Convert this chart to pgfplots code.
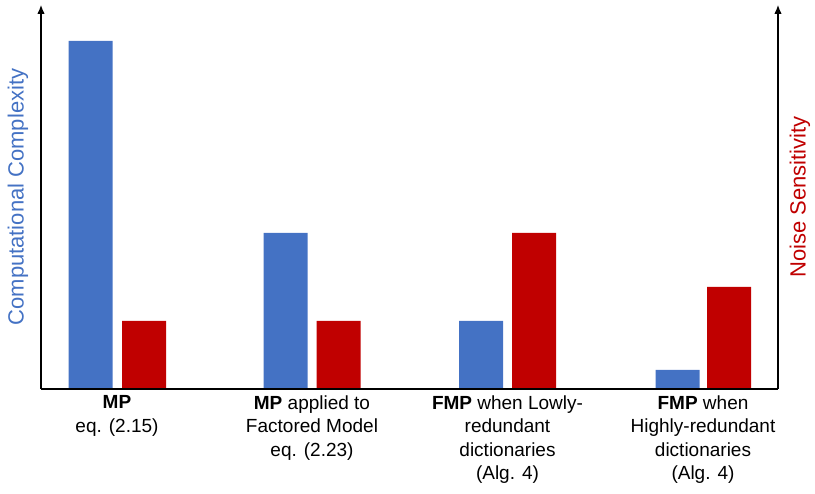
\documentclass[border=0pt]{standalone}
\usepackage{fontspec}
\setmainfont{Liberation Sans}
\usepackage{pgfplots}
\pgfplotsset{compat=1.18}
\usetikzlibrary{arrows.meta}
\definecolor{cblue}{HTML}{4472C4}
\definecolor{cred}{HTML}{C00000}
\begin{document}
\begin{tikzpicture}[x=1pt,y=1pt]
\path (0,0) rectangle (815,494);
\begin{axis}[
  at={(41pt,105pt)}, anchor=south west,
  scale only axis, width=737pt, height=384pt,
  xmin=0, xmax=737, ymin=0, ymax=384,
  axis line style={draw=none},
  ytick=\empty,
  xtick={76,271,466.5,662},
  major tick length=0pt,
  xticklabels={{\textbf{MP}\\eq. (2.15)},
               {\textbf{MP} applied to\\Factored Model\\eq. (2.23)},
               {\textbf{FMP} when Lowly-\\redundant\\dictionaries\\(Alg. 4)},
               {\textbf{FMP} when\\Highly-redundant\\dictionaries\\(Alg. 4)}},
  xticklabel style={align=center, font=\fontsize{19}{23.5}\selectfont, anchor=north, yshift=-3pt},
  clip=false,
]
\addplot[ybar, bar width=44, bar shift=0pt, fill=cblue, draw=none]
  coordinates {(49.5,348) (244.5,156) (440,68) (636.5,19)};
\addplot[ybar, bar width=44, bar shift=0pt, fill=cred, draw=none]
  coordinates {(103,68) (297.5,68) (493,156) (688,102)};
\draw[line width=1.2pt] (rel axis cs:0,0) -- (rel axis cs:1,0);
\draw[line width=1.2pt, -{Latex[length=9pt,width=7.5pt]}] (rel axis cs:0,0) -- (rel axis cs:0,1);
\draw[line width=1.2pt, -{Latex[length=9pt,width=7.5pt]}] (rel axis cs:1,0) -- (rel axis cs:1,1);
\node[rotate=90, text=cblue, font=\fontsize{22}{26}\selectfont] at ([xshift=-23pt]rel axis cs:0,0.5) {Computational Complexity};
\node[rotate=90, text=cred, font=\fontsize{22}{26}\selectfont] at ([xshift=22pt]rel axis cs:1,0.5) {Noise Sensitivity};
\end{axis}
\end{tikzpicture}
\end{document}
